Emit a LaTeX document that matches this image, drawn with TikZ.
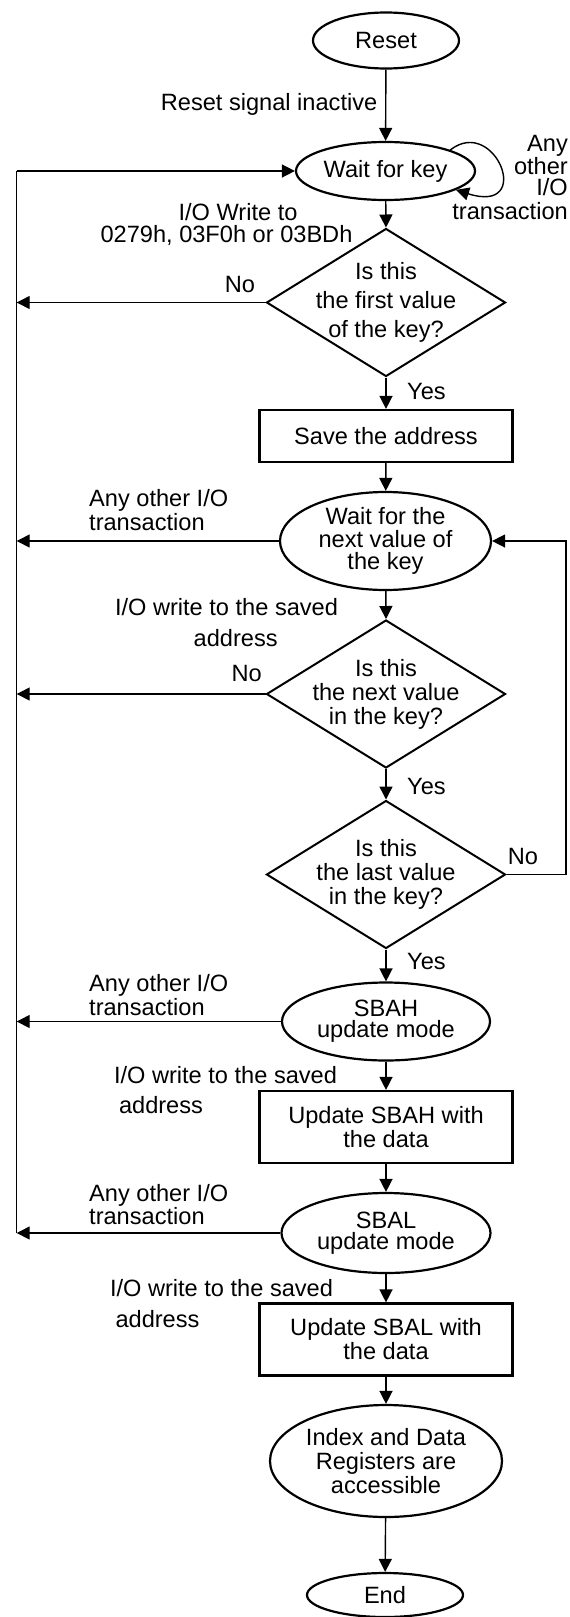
\documentclass[tikz,border=0pt]{standalone}
\usepackage{fontspec}
\setmainfont{Liberation Sans}
\usetikzlibrary{shapes.geometric,arrows.meta}
\begin{document}
\begin{tikzpicture}[x=1pt,y=-1pt,
  every node/.style={font=\fontsize{23.6}{23}\selectfont, inner sep=0pt},
  ell/.style={ellipse, draw, line width=2.2pt, align=center},
  dia/.style={diamond, draw, line width=2pt, minimum width=239pt, minimum height=148pt},
  dtext/.style={align=center, font=\fontsize{23.6}{24}\selectfont},
  box/.style={rectangle, draw, line width=2.2pt, minimum width=253pt, align=center, font=\fontsize{23.6}{24}\selectfont},
  flow/.style={line width=1.4pt, -{Triangle[length=13pt,width=13pt]}},
  plain/.style={line width=1.4pt},
  lbl/.style={anchor=base},
  lbll/.style={anchor=base west},
  lblr/.style={anchor=base east},
]
\useasboundingbox (0,0) rectangle (570,1617);

% shapes
\node[ell, minimum width=146pt, minimum height=56pt] (reset) at (386,40.5) {Reset};
\node[ell, minimum width=179pt, minimum height=58pt] (wk) at (385.5,171) {Wait for key};
\node[dia] (d1) at (386,302.5) {};
\node[dtext, font=\fontsize{23.6}{29}\selectfont] (t1) at (d1.center) {Is this\\the first value\\of the key?};
\node[box, minimum height=52pt] (save) at (386,436) {Save the address};
\node[ell, minimum width=211pt, minimum height=98pt, font=\fontsize{23.6}{22.5}\selectfont] (wn) at (385.5,541) {Wait for the\\next value of\\the key};
\node[dia] (d2) at (386,694) {};
\node[dtext] (t2) at (d2.center) {Is this\\the next value\\in the key?};
\node[dia] (d3) at (386,874.5) {};
\node[dtext] (t3) at (d3.center) {Is this\\the last value\\in the key?};
\node[ell, minimum width=208pt, minimum height=78pt, font=\fontsize{23.6}{21}\selectfont] (sbah) at (386,1021.5) {SBAH\\update mode};
\node[box, minimum height=72pt] (ub) at (386,1127) {Update SBAH with\\the data};
\node[ell, minimum width=209pt, minimum height=80pt, font=\fontsize{23.6}{21.6}\selectfont] (sbal) at (386,1233) {SBAL\\update mode};
\node[box, minimum height=72pt] (ul) at (386,1339.5) {Update SBAL with\\the data};
\node[ell, minimum width=232pt, minimum height=112pt, font=\fontsize{23.6}{24}\selectfont] (idx) at (386,1461) {Index and Data\\Registers are\\accessible};
\node[ell, minimum width=156pt, minimum height=44pt] (end) at (385,1595) {End};

% helper coordinates
\coordinate (lx) at (16.7,0);
\coordinate (rx) at (566,0);

% main flow
\draw[flow] (reset) -- (wk);
\draw[flow] (wk.18) .. controls (495,115) and (535,215) .. (wk.-15);
\draw[flow] (wk) -- (d1.north);
\draw[flow] (d1.south) -- (save);
\draw[flow] (save) -- (wn);
\draw[flow] (wn) -- (d2.north);
\draw[flow] (d2.south) -- (d3.north);
\draw[flow] (d3.south) -- (sbah);
\draw[flow] (sbah) -- (ub);
\draw[flow] (ub) -- (sbal);
\draw[flow] (sbal) -- (ul);
\draw[flow] (ul) -- (idx);
\draw[flow] (idx) -- (end);

% loop back from last-value test
\draw[flow] (d3.east) -- (d3.east -| rx) -- (wn.east -| rx) -- (wn.east);

% left return line
\draw[plain] (wk.west -| lx) -- (sbal.west -| lx);
\draw[flow] (wk.west -| lx) -- (wk.west);
\draw[flow] (d1.west) -- (d1.west -| lx);
\draw[flow] (wn.west) -- (wn.west -| lx);
\draw[flow] (d2.west) -- (d2.west -| lx);
\draw[flow] (sbah.west) -- (sbah.west -| lx);
\draw[flow] (sbal.west) -- (sbal.west -| lx);

% labels
\node[lblr] (l1) at (377.5,110.5) {Reset signal inactive};
\node[lblr] (l2a) at (568,151) {Any};
\node[lblr] (l2b) at (568,174) {other};
\node[lblr] (l2c) at (568,195) {I/O};
\node[lblr] (l2d) at (568,219.5) {transaction};
\node[lbl] (l3a) at (238,220.8) {I/O Write to};
\node[lbl] (l3b) at (226.5,242.5) {0279h, 03F0h or 03BDh};
\node[lbl] (l4) at (240,292.5) {No};
\node[lbll] (l5) at (407,399.5) {Yes};
\node[lbll] (l6a) at (89,506.8) {Any other I/O};
\node[lbll] (l6b) at (89,530.2) {transaction};
\node[lbl] (l7a) at (226.5,615.8) {I/O write to the saved};
\node[lbl] (l7b) at (235.7,646.8) {address};
\node[lbl] (l8) at (246.7,681.5) {No};
\node[lbll] (l9) at (407,794.2) {Yes};
\node[lbl] (l10) at (523,864.2) {No};
\node[lbll] (l11) at (407,969.2) {Yes};
\node[lbll] (l12a) at (89,991.8) {Any other I/O};
\node[lbll] (l12b) at (89,1015.8) {transaction};
\node[lbl] (l13a) at (225.5,1083.5) {I/O write to the saved};
\node[lbl] (l13b) at (161,1113.5) {address};
\node[lbll] (l14a) at (89,1201.8) {Any other I/O};
\node[lbll] (l14b) at (89,1224.8) {transaction};
\node[lbl] (l15a) at (221.5,1296.8) {I/O write to the saved};
\node[lbl] (l15b) at (157.5,1327.5) {address};
\end{tikzpicture}
\end{document}
